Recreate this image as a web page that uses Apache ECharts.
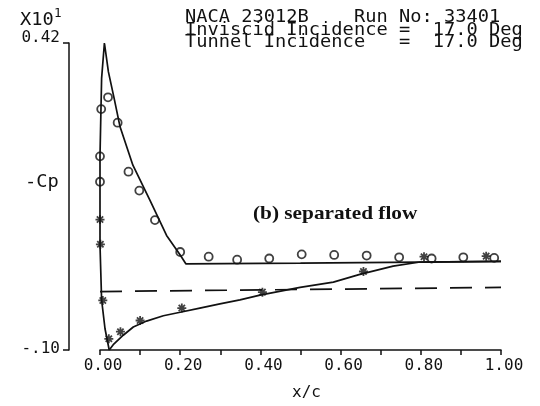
<!DOCTYPE html>
<html>
<head>
<meta charset="utf-8">
<script src="https://cdn.jsdelivr.net/npm/echarts@6/dist/echarts.min.js"></script>
<style>
  html, body { margin: 0; padding: 0; background: #fff; }
  #chart { width: 540px; height: 406px; }
</style>
</head>
<body>
<div id="chart"></div>
<script>
// ---- axis ticks and labels ----
const xTickValues = [0, 0.1, 0.2, 0.3, 0.4, 0.5, 0.6, 0.7, 0.8, 0.9, 1.0];
const xLabelValues = [0, 0.2, 0.4, 0.6, 0.8, 1.0];
const xTickLabels = ['0.00', '0.20', '0.40', '0.60', '0.80', '1.00'];
const yTickValues = [-0.10, 0.42];
const yTickLabels = ['-.10', '0.42'];

// ---- inviscid prediction (solid): upper surface path, stagnation point -> nose -> trailing edge ----
const invUpperX  = [0.023, 0.0125, 0.004, 0.0, 0.0, 0.004, 0.011, 0.021, 0.035, 0.050, 0.082, 0.125, 0.166, 0.200, 0.214, 0.500, 0.800, 1.000];
const invUpperCp = [-0.100, -0.064, -0.015, 0.078, 0.229, 0.360, 0.420, 0.371, 0.327, 0.278, 0.213, 0.153, 0.094, 0.061, 0.046, 0.047, 0.049, 0.050];

// ---- inviscid prediction (solid): lower surface ----
const invLowerX  = [0.023, 0.033, 0.058, 0.083, 0.116, 0.158, 0.200, 0.249, 0.299, 0.349, 0.399, 0.499, 0.582, 0.648, 0.731, 0.798, 1.000];
const invLowerCp = [-0.100, -0.091, -0.075, -0.061, -0.051, -0.042, -0.036, -0.029, -0.022, -0.015, -0.007, 0.006, 0.015, 0.028, 0.042, 0.049, 0.050];

// ---- reference level (dashed) ----
const refX  = [0.0, 1.0];
const refCp = [-0.001, 0.006];

// ---- measured, upper surface (circles) ----
const upperX  = [0.020, 0.003, 0.044, 0.0, 0.071, 0.0, 0.098, 0.137, 0.200, 0.271, 0.342, 0.422, 0.503, 0.584, 0.665, 0.746, 0.827, 0.906, 0.983];
const upperCp = [0.328, 0.308, 0.285, 0.228, 0.202, 0.185, 0.170, 0.120, 0.066, 0.058, 0.053, 0.055, 0.062, 0.061, 0.060, 0.057, 0.055, 0.057, 0.056];

// ---- measured, lower surface (asterisks) ----
const lowerX  = [0.0, 0.001, 0.007, 0.022, 0.051, 0.100, 0.204, 0.405, 0.657, 0.808, 0.963];
const lowerCp = [0.121, 0.079, -0.016, -0.081, -0.069, -0.050, -0.029, -0.002, 0.033, 0.058, 0.059];

// ---- header / annotation text ----
const headerLines = [
  'NACA 23012B    Run No: 33401',
  'Inviscid Incidence =  17.0 Deg',
  'Tunnel Incidence   =  17.0 Deg'
];
const scaleText = 'X10';
const scaleExp = '1';
const yName = '-Cp';
const xName = 'x/c';
const noteText = '(b) separated flow';

const zip = (xs, ys) => xs.map((x, i) => [x, ys[i]]);

const INK = '#111';
const MONO = '"DejaVu Sans Mono", "Liberation Mono", monospace';
const PEN = 1.7;

// eight-armed asterisk marker (all bars wound the same way so overlaps stay filled)
const starPath = 'path://' +
  'M-1,-5L1,-5L1,5L-1,5Z' +
  'M-5,-1L5,-1L5,1L-5,1Z' +
  'M-2.8,-4.2L4.2,2.8L2.8,4.2L-4.2,-2.8Z' +
  'M2.8,-4.2L4.2,-2.8L-2.8,4.2L-4.2,2.8Z';

function plotterText(str, x, y, size, sx) {
  return {
    type: 'text', x: x, y: y, scaleX: sx || 1.1, silent: true,
    style: { text: str, x: 0, y: 0, fill: INK, font: size + 'px ' + MONO,
             textAlign: 'left', textVerticalAlign: 'middle' }
  };
}

const chart = echarts.init(document.getElementById('chart'), null, { renderer: 'canvas' });

const graphics = [];
const headerY = [18, 31, 42.5];
headerLines.forEach((s, i) => graphics.push(plotterText(s, 185, headerY[i], 17)));
graphics.push(plotterText(scaleText, 20, 21, 17));
graphics.push(plotterText(scaleExp, 54, 14, 12, 1.05));
graphics.push(plotterText(yName, 25, 183, 17));
graphics.push({
  type: 'text', x: 253, y: 214, scaleX: 1.12, silent: true,
  style: { text: noteText, x: 0, y: 0, fill: INK,
           font: 'bold 19px "Liberation Serif", "DejaVu Serif", serif',
           textAlign: 'left', textVerticalAlign: 'middle' }
});

function pickLabel(values, labels, v) {
  for (let i = 0; i < values.length; i++) {
    if (Math.abs(values[i] - v) < 1e-6) return labels[i];
  }
  return '';
}

chart.setOption({
  animation: false,
  backgroundColor: '#fff',
  grid: { left: 100, right: 39, top: 43, bottom: 44 },
  xAxis: {
    type: 'value', min: 0, max: 1,
    axisLine: { show: true, onZero: false, lineStyle: { color: INK, width: 1.5 } },
    axisTick: { show: true, customValues: xTickValues, length: 5, lineStyle: { color: INK, width: 1.5 } },
    axisLabel: {
      customValues: xLabelValues, margin: 8, color: INK,
      fontFamily: MONO, fontSize: 16, padding: [0, 0, 0, 6],
      formatter: v => pickLabel(xLabelValues, xTickLabels, v)
    },
    splitLine: { show: false },
    name: xName, nameLocation: 'middle', nameGap: 35,
    nameTextStyle: { color: INK, fontFamily: MONO, fontSize: 16, padding: [0, 0, 0, 12] }
  },
  yAxis: {
    type: 'value', min: -0.10, max: 0.42, offset: 31,
    axisLine: { show: true, onZero: false, lineStyle: { color: INK, width: 1.5 } },
    axisTick: { show: true, customValues: yTickValues, length: 6, lineStyle: { color: INK, width: 1.5 } },
    axisLabel: {
      customValues: yTickValues, margin: 9,
      formatter: v => {
        const s = pickLabel(yTickValues, yTickLabels, v);
        return v > 0 ? '{hi|' + s + '}' : '{lo|' + s + '}';
      },
      rich: {
        hi: { color: INK, fontFamily: MONO, fontSize: 16, padding: [0, 0, 11, 0] },
        lo: { color: INK, fontFamily: MONO, fontSize: 16, padding: [0, 0, 2, 0] }
      }
    },
    splitLine: { show: false }
  },
  graphic: graphics,
  series: [
    {
      type: 'line', data: zip(invUpperX, invUpperCp), showSymbol: false, clip: false,
      lineStyle: { color: INK, width: PEN }, z: 2
    },
    {
      type: 'line', data: zip(invLowerX, invLowerCp), showSymbol: false, clip: false,
      lineStyle: { color: INK, width: PEN }, z: 2
    },
    {
      type: 'line', data: zip(refX, refCp), showSymbol: false, clip: false,
      lineStyle: { color: INK, width: PEN, type: [22, 13] }, z: 2
    },
    {
      type: 'scatter', data: zip(upperX, upperCp), symbol: 'circle', symbolSize: 8, clip: false,
      itemStyle: { color: 'rgba(255,255,255,0)', borderColor: INK, borderWidth: 1.8 }, z: 3
    },
    {
      type: 'scatter', data: zip(lowerX, lowerCp), symbol: starPath, symbolSize: 9, clip: false,
      itemStyle: { color: INK }, z: 3
    }
  ]
});
</script>
</body>
</html>
